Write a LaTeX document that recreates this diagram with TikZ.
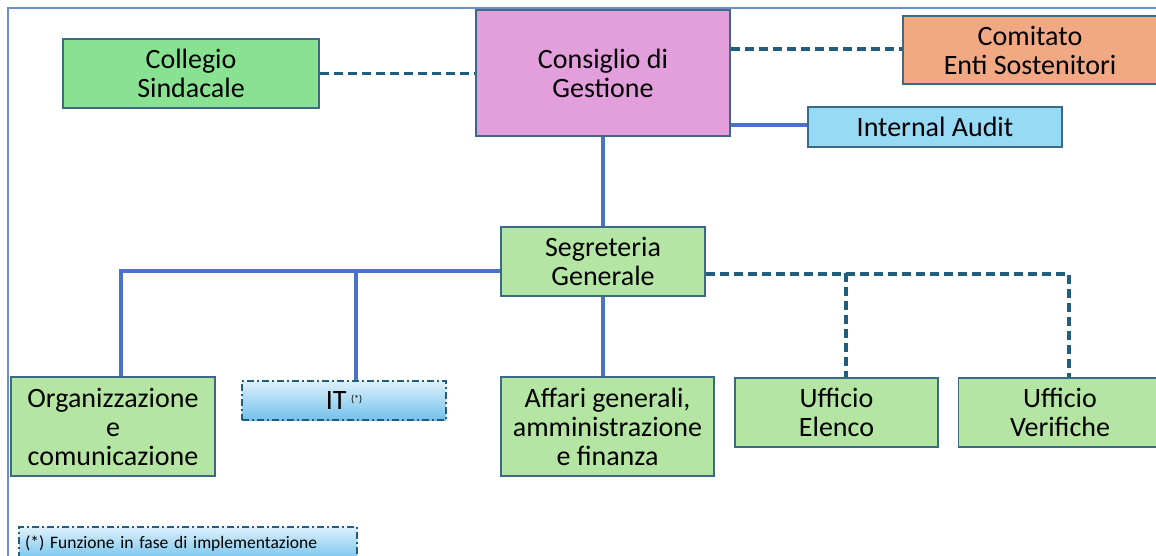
\documentclass[tikz,border=0pt]{standalone}
\usepackage{fontspec}
\setmainfont{Carlito}
\usetikzlibrary{calc}

\definecolor{frameblue}{HTML}{6C8FCB}
\definecolor{linkblue}{HTML}{4A72C6}
\definecolor{darkteal}{HTML}{215D7C}
\definecolor{boxedge}{HTML}{3A6A86}
\definecolor{greenA}{HTML}{88E291}
\definecolor{greenB}{HTML}{B4E5A3}
\definecolor{orchid}{HTML}{E39FDC}
\definecolor{salmon}{HTML}{F2A882}
\definecolor{skyblue}{HTML}{96DAF6}
\definecolor{itTop}{HTML}{DDF0FB}
\definecolor{itBottom}{HTML}{72C2EC}

\tikzset{
  box/.style={draw=boxedge, line width=1.5pt, align=center, inner sep=0pt,
    font=\fontsize{28}{29}\selectfont},
  plan/.style={box, dash pattern=on 7pt off 3pt on 2pt off 3pt,
    top color=itTop, bottom color=itBottom, draw=darkteal, line width=2pt},
  solidlink/.style={draw=linkblue, line width=3.2pt},
  dashlink/.style={draw=darkteal, line width=3.4pt, dash pattern=on 9pt off 5pt},
}

\begin{document}
\begin{tikzpicture}[x=1pt, y=-1pt]

  \useasboundingbox (0,0) rectangle (1156,556);

  % outer frame
  \draw[frameblue, line width=2.4pt] (8,570) -- (8,8) -- (1170,8);

  % top level
  \node[box, fill=orchid, minimum width=254, minimum height=126] (cons) at (603,73) {Consiglio di\\Gestione};
  \node[box, fill=greenA, minimum width=256, minimum height=69] (coll) at (191,73.5) {Collegio\\Sindacale};
  \node[box, fill=salmon, minimum width=254, minimum height=68] (comi) at (1030,50) {Comitato\\Enti Sostenitori};
  \node[box, fill=skyblue, minimum width=254, minimum height=40] (audit) at (935,127) {Internal Audit};

  % middle
  \node[box, fill=greenB, minimum width=204, minimum height=69] (segr) at (603,261.5) {Segreteria\\Generale};

  % offices
  \node[box, fill=greenB, minimum width=204, minimum height=99] (org) at (113,426.5) {Organizzazione\\e\\comunicazione};
  \node[plan, minimum width=204, minimum height=39] (it) at (344,400.5) {IT\,{\fontsize{10}{10}\selectfont\raisebox{7pt}{(*)}}};
  \node[box, fill=greenB, minimum width=213, minimum height=99] (aff) at (607.5,426.5) {Affari generali,\\amministrazione\\e finanza};
  \node[box, fill=greenB, minimum width=203, minimum height=69] (elenco) at (836.5,412.5) {Ufficio\\Elenco};
  \node[box, fill=greenB, minimum width=203, minimum height=69] (verif) at (1060,412.5) {Ufficio\\Verifiche};

  % note
  \node[plan, minimum width=338, minimum height=34, text width=326, align=left,
    font=\fontsize{17.5}{19}\selectfont] (note) at (188,544) {(*) Funzione in fase di implementazione};

  % junctions
  \coordinate (jorg) at (121,271);
  \coordinate (jit) at (356,271);
  \coordinate (jel) at (846,273);
  \coordinate (jver) at (1069,274);

  % solid links
  \draw[solidlink] (cons.south) -- (segr.north);
  \draw[solidlink] (cons.east |- 0,125) -- (audit.west |- 0,125);
  \draw[solidlink] (segr.west |- jorg) -- (jorg) -- (jorg |- org.north);
  \draw[solidlink] (jit) -- (jit |- it.north);
  \draw[solidlink] (segr.south) -- (segr.south |- aff.north);

  % dashed links
  \draw[dashlink] (coll.east) -- (cons.west |- coll.east);
  \draw[dashlink] (cons.east |- 0,49) -- (comi.west |- 0,49);
  \draw[dashlink] (segr.east |- jver) -- (jver) -- (jver |- verif.north);
  \draw[dashlink] (jel) -- (jel |- elenco.north);

\end{tikzpicture}
\end{document}
